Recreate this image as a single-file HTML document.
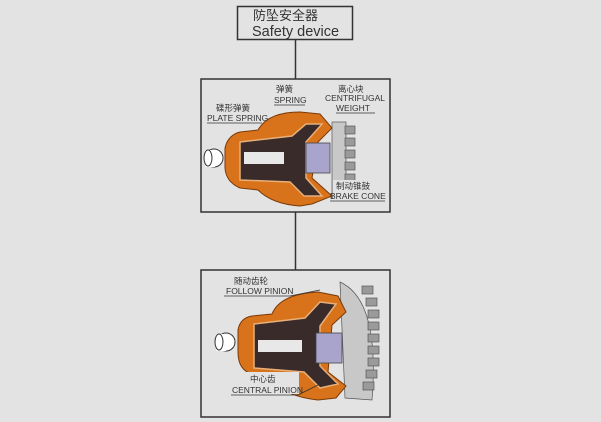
<!DOCTYPE html>
<html><head><meta charset="utf-8"><style>
body{margin:0;width:601px;height:422px;background:#e3e3e3;overflow:hidden;font-family:"Liberation Sans","Noto Sans CJK SC",sans-serif}
svg{position:absolute;left:0;top:0}
text{font-family:"Liberation Sans","Noto Sans CJK SC",sans-serif;fill:#333}
</style></head><body>
<svg width="601" height="422" viewBox="0 0 601 422">
<rect x="237.5" y="6.5" width="115" height="33" fill="#e3e3e3" stroke="#333" stroke-width="1.5"/>
<text x="253" y="20" font-size="13" fill="#222">防坠安全器</text>
<text x="252" y="36" font-size="14.5" fill="#222">Safety device</text>
<line x1="295.5" y1="40" x2="295.5" y2="79" stroke="#333" stroke-width="1.5"/>
<line x1="295.5" y1="212" x2="295.5" y2="270" stroke="#333" stroke-width="1.5"/>
<rect x="201" y="79" width="189" height="133" fill="#e3e3e3" stroke="#333" stroke-width="1.5"/>
<g fill="#9a9a9a" stroke="#555" stroke-width="0.7">
<rect x="332" y="122" width="14" height="76" fill="#c8c8c8"/>
<rect x="345" y="126" width="10" height="8"/><rect x="345" y="138" width="10" height="8"/><rect x="345" y="150" width="10" height="8"/><rect x="345" y="162" width="10" height="8"/><rect x="345" y="174" width="10" height="8"/>
</g>
<path d="M225 148 Q228 135 240 132 L258 130 Q268 112 300 112 L320 114 L332 128 L318 142 L312 178 L332 196 L312 204 L300 206 Q272 204 258 190 L240 188 Q226 182 225 168 Z" fill="#d8731c" stroke="#7a3a08" stroke-width="1"/>
<path d="M240 142 L292 136 L306 124 L322 124 L306 142 L306 178 L322 196 L304 196 L290 182 L240 180 Z" fill="#3a2b2b" stroke="#e8b078" stroke-width="1.5"/>
<rect x="244" y="152" width="40" height="12" fill="#e8e8e8"/>
<rect x="306" y="143" width="24" height="30" fill="#a8a4cc" stroke="#444" stroke-width="0.8"/>
<ellipse cx="214" cy="158" rx="9" ry="9" fill="#fff" stroke="#333"/>
<rect x="205" y="150" width="10" height="17" fill="#fff"/>
<ellipse cx="208" cy="158" rx="4" ry="8" fill="#fff" stroke="#333"/>
<g font-size="8.5">
<text x="276" y="92">弹簧</text><text x="274" y="103">SPRING</text>
<text x="338" y="92">离心块</text><text x="325" y="101">CENTRIFUGAL</text><text x="336" y="111">WEIGHT</text>
<text x="216" y="111">碟形弹簧</text><text x="207" y="121">PLATE SPRING</text>
<rect x="333" y="180" width="50" height="22" fill="#e3e3e3" stroke="none"/>
<text x="336" y="189">制动锥鼓</text><text x="330" y="199">BRAKE CONE</text>
</g>
<g stroke="#333" stroke-width="0.8" fill="none">
<line x1="207" y1="123" x2="262" y2="123"/><line x1="274" y1="105" x2="305" y2="105"/><line x1="336" y1="113" x2="375" y2="113"/><line x1="330" y1="201" x2="385" y2="201"/>
</g>
<rect x="201" y="270" width="189" height="147" fill="#e3e3e3" stroke="#333" stroke-width="1.5"/>
<g fill="#9a9a9a" stroke="#555" stroke-width="0.7">
<path d="M340 282 Q380 300 372 400 L345 398 Z" fill="#c8c8c8"/>
<rect x="362" y="286" width="11" height="8"/><rect x="366" y="298" width="11" height="8"/><rect x="368" y="310" width="11" height="8"/><rect x="368" y="322" width="11" height="8"/><rect x="368" y="334" width="11" height="8"/><rect x="368" y="346" width="11" height="8"/><rect x="368" y="358" width="11" height="8"/><rect x="366" y="370" width="11" height="8"/><rect x="363" y="382" width="11" height="8"/>
</g>
<path d="M238 330 Q240 318 252 316 L272 314 Q280 294 318 292 L338 296 L346 312 L332 325 L328 372 L346 386 L336 398 L318 400 Q282 396 272 378 L252 374 Q238 370 238 352 Z" fill="#d8731c" stroke="#7a3a08" stroke-width="1"/>
<path d="M254 324 L305 318 L320 302 L336 304 L320 326 L320 366 L338 384 L320 388 L304 372 L254 368 Z" fill="#3a2b2b" stroke="#e8b078" stroke-width="1.5"/>
<rect x="258" y="340" width="44" height="12" fill="#e8e8e8"/>
<rect x="316" y="333" width="26" height="30" fill="#a8a4cc" stroke="#444" stroke-width="0.8"/>
<ellipse cx="226" cy="342" rx="9" ry="9" fill="#fff" stroke="#333"/>
<rect x="216" y="334" width="10" height="17" fill="#fff"/>
<ellipse cx="219" cy="342" rx="4" ry="8" fill="#fff" stroke="#333"/>
<g font-size="8.5">
<text x="234" y="284">随动齿轮</text><text x="226" y="294">FOLLOW PINION</text>
<rect x="231" y="372" width="68" height="22" fill="#e3e3e3" stroke="none"/>
<text x="250" y="382">中心齿</text><text x="232" y="393">CENTRAL PINION</text>
</g>
<g stroke="#333" stroke-width="0.8" fill="none">
<line x1="224" y1="296" x2="290" y2="296"/><line x1="290" y1="296" x2="320" y2="290"/>
<line x1="231" y1="395" x2="298" y2="395"/><line x1="298" y1="395" x2="318" y2="385"/>
</g>
</svg>
</body></html>
